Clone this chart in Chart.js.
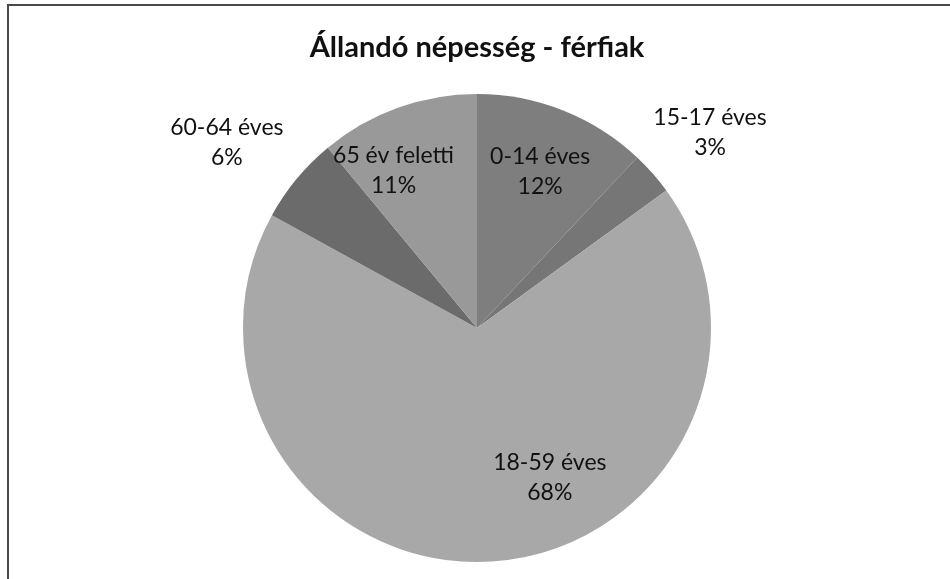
<!DOCTYPE html>
<html>
<head>
<meta charset="utf-8">
<script src="https://cdn.jsdelivr.net/npm/chart.js@4/dist/chart.umd.min.js"></script>
<style>
  body{margin:0;background:#fff;}
  canvas{display:block;}
</style>
</head>
<body>
<canvas id="myChart" width="950" height="579"></canvas>
<script>
const categories=["0-14 éves","15-17 éves","18-59 éves","60-64 éves","65 év feletti"]
const shares=[12,3,68,6,11]
const shareLabels=["12%","3%","68%","6%","11%"]

// where each label sits: angle from 12 o'clock (deg) and distance as part of the radius
const labelAngle=[22,50,154,306.5,332]
const labelDist=[0.72,1.30,0.71,1.33,0.76]
const sliceColors=["#7e7e7e","#767676","#a8a8a8","#6b6b6b","#999999"]

const frame={
  id:"frame",
  beforeDraw(chart){
    const c=chart.ctx
    c.save()
    c.strokeStyle="#4a4a4a"
    c.lineWidth=2
    c.beginPath()
    c.moveTo(8,579)
    c.lineTo(8,5)
    c.lineTo(950,5)
    c.stroke()
    c.restore()
  }
}

const sliceText={
  id:"sliceText",
  afterDatasetsDraw(chart){
    const c=chart.ctx
    const arcs=chart.getDatasetMeta(0).data
    c.save()
    c.font="23px Lato"
    c.fillStyle="#111"
    c.textAlign="center"
    c.textBaseline="middle"
    arcs.forEach((arc,i)=>{
      const a=labelAngle[i]*Math.PI/180
      const r=arc.outerRadius*labelDist[i]
      const x=arc.x+Math.sin(a)*r
      const y=arc.y-Math.cos(a)*r
      c.fillText(categories[i],x,y-15)
      c.fillText(shareLabels[i],x,y+15)
    })
    c.restore()
  }
}

const ctx=document.getElementById("myChart").getContext("2d")
const chart=new Chart(ctx,{
  type:"pie",
  data:{
    labels:categories,
    datasets:[{
      data:shares,
      backgroundColor:sliceColors,
      borderWidth:0
    }]
  },
  options:{
    responsive:false,
    animation:false,
    layout:{padding:{top:0,bottom:17,left:4,right:0}},
    plugins:{
      legend:{display:false},
      tooltip:{enabled:false},
      title:{
        display:true,
        text:"Állandó népesség - férfiak",
        color:"#111",
        font:{family:"Lato",size:29,weight:"bold",lineHeight:1.2},
        padding:{top:30,bottom:29.2}
      }
    }
  },
  plugins:[frame,sliceText]
})
</script>
</body>
</html>
